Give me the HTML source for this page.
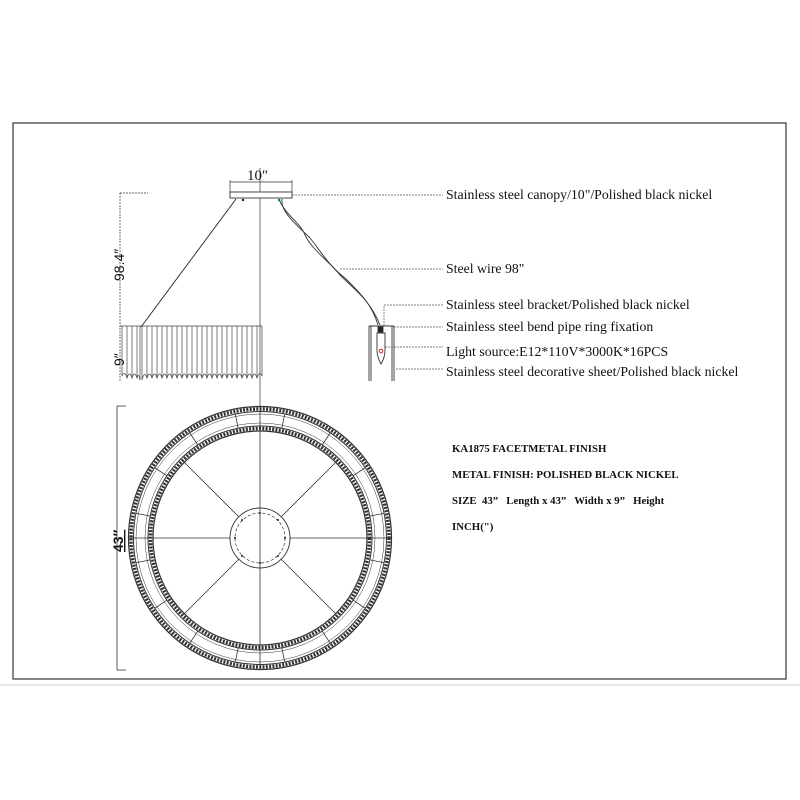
<!DOCTYPE html>
<html><head><meta charset="utf-8"><style>
html,body{margin:0;padding:0;background:#fff;width:800px;height:800px;overflow:hidden}
svg{display:block}
.t{font-family:"Liberation Serif",serif;font-size:13.8px;fill:#111}
.d{font-family:"Liberation Sans",sans-serif;font-size:14px;fill:#111}
.b{font-family:"Liberation Serif",serif;font-size:10.8px;font-weight:bold;fill:#111}
</style></head><body>
<svg width="800" height="800" viewBox="0 0 800 800" xmlns="http://www.w3.org/2000/svg">
<rect x="13" y="123" width="773" height="556" fill="none" stroke="#444" stroke-width="1.3"/>
<line x1="0" y1="685" x2="800" y2="685" stroke="#ccc" stroke-width="1"/>
<line x1="260" y1="168" x2="260" y2="410" stroke="#333" stroke-width="0.7"/>
<rect x="230" y="192" width="62" height="6" fill="#fff" stroke="#333" stroke-width="0.9"/>
<line x1="230" y1="182" x2="292" y2="182" stroke="#333" stroke-width="0.7"/>
<line x1="230" y1="180" x2="230" y2="192" stroke="#333" stroke-width="0.7"/>
<line x1="292" y1="180" x2="292" y2="192" stroke="#333" stroke-width="0.7"/>
<text x="247" y="180" class="t" style="font-size:15px">10″</text>
<circle cx="243" cy="200" r="1.2" fill="#222"/><circle cx="279" cy="200" r="1.3" fill="#2a9"/>
<line x1="236" y1="199" x2="141" y2="327" stroke="#222" stroke-width="0.9"/>
<path d="M279 199 C285 215 300 222 305 235 C312 250 330 262 340 275 C355 290 370 300 380 325" fill="none" stroke="#333" stroke-width="0.9"/>
<path d="M282 199 C280 212 298 226 310 238 C320 250 328 265 345 278 C362 295 372 305 378 325" fill="none" stroke="#333" stroke-width="0.9"/>
<line x1="120" y1="193" x2="120" y2="381" stroke="#333" stroke-width="0.7" stroke-dasharray="2 1"/>
<line x1="120" y1="193" x2="148" y2="193" stroke="#333" stroke-width="0.7" stroke-dasharray="2 1"/>
<text transform="translate(124,281) rotate(-90)" class="d">98.4″</text>
<text transform="translate(124,366) rotate(-90)" class="d">9″</text>
<g stroke="#444" stroke-width="0.7" fill="none">
<line x1="120" y1="326" x2="262" y2="326"/>
<path d="M122 326 V376 M127 326 V378 M132 326 V378 M137 326 V378 M140 326 V380 M142 326 V380 M147 326 V378 M152 326 V378 M157 326 V378 M162 326 V378 M167 326 V378 M172 326 V378 M177 326 V378 M182 326 V378 M187 326 V378 M192 326 V378 M197 326 V378 M202 326 V378 M207 326 V378 M212 326 V378 M217 326 V378 M222 326 V378 M227 326 V378 M232 326 V378 M237 326 V378 M242 326 V378 M247 326 V378 M252 326 V378 M257 326 V378 M262 326 V376"/>
<path d="M122 376 Q124.5 370 127 378 Q129.5 370 132 378 Q134.5 370 137 378 Q138.5 372 140 380 M142 380 Q144.5 370 147 378 Q149.5 370 152 378 Q154.5 370 157 378 Q159.5 370 162 378 Q164.5 370 167 378 Q169.5 370 172 378 Q174.5 370 177 378 Q179.5 370 182 378 Q184.5 370 187 378 Q189.5 370 192 378 Q194.5 370 197 378 Q199.5 370 202 378 Q204.5 370 207 378 Q209.5 370 212 378 Q214.5 370 217 378 Q219.5 370 222 378 Q224.5 370 227 378 Q229.5 370 232 378 Q234.5 370 237 378 Q239.5 370 242 378 Q244.5 370 247 378 Q249.5 370 252 378 Q254.5 370 257 378 Q259.5 370 262 376"/>
</g>
<g stroke="#333" stroke-width="0.9" fill="none">
<line x1="369" y1="326" x2="394" y2="326"/>
<line x1="369" y1="326" x2="369" y2="381"/><line x1="371" y1="326" x2="371" y2="381"/>
<line x1="392" y1="326" x2="392" y2="381"/><line x1="394" y1="326" x2="394" y2="381"/>
<rect x="378" y="327" width="5" height="5" fill="#222"/>
<path d="M377 333 H385 V350 C385 358 382 362 381 364 C379 360 377 356 377 350 Z"/>
</g>
<circle cx="381" cy="351" r="1.8" fill="none" stroke="#d22" stroke-width="1"/>
<g stroke="#555" stroke-width="0.7" stroke-dasharray="2 1">
<line x1="292" y1="195" x2="443" y2="195"/>
<line x1="340" y1="269" x2="443" y2="269"/>
<line x1="384" y1="326" x2="384" y2="305"/><line x1="384" y1="305" x2="443" y2="305"/>
<line x1="394" y1="327" x2="443" y2="327"/>
<line x1="385" y1="347" x2="443" y2="347"/>
<line x1="396" y1="369" x2="443" y2="369"/>
</g>
<text x="446" y="199" class="t">Stainless steel canopy/10"/Polished black nickel</text>
<text x="446" y="273" class="t">Steel wire 98"</text>
<text x="446" y="309" class="t">Stainless steel bracket/Polished black nickel</text>
<text x="446" y="331" class="t">Stainless steel bend pipe ring fixation</text>
<text x="446" y="356" class="t">Light source:E12*110V*3000K*16PCS</text>
<text x="446" y="376" class="t">Stainless steel decorative sheet/Polished black nickel</text>
<line x1="117" y1="406" x2="117" y2="670" stroke="#333" stroke-width="0.8"/>
<line x1="117" y1="406" x2="126" y2="406" stroke="#333" stroke-width="0.8"/>
<line x1="117" y1="670" x2="126" y2="670" stroke="#333" stroke-width="0.8"/>
<text transform="translate(123,552) rotate(-90)" class="d" style="text-decoration:underline;font-weight:bold">43″</text>
<g transform="translate(260,538)" fill="none" stroke="#333">
<circle r="131.5" stroke-width="1.2"/>
<circle r="129" stroke-width="3.5" stroke-dasharray="2 1.3" stroke="#333"/>
<circle r="126.5" stroke-width="1"/>
<circle r="112" stroke-width="1"/>
<circle r="109.5" stroke-width="3.5" stroke-dasharray="2 1.3" stroke="#333"/>
<circle r="107" stroke-width="1.2"/>
<circle r="124" stroke-width="0.5"/>
<circle r="115" stroke-width="0.5"/>
<g stroke-width="0.8">
<line x1="0" y1="-131" x2="0" y2="131"/>
<line x1="-131" y1="0" x2="131" y2="0"/>
<line x1="-76" y1="-76" x2="-21" y2="-21"/><line x1="76" y1="-76" x2="21" y2="-21"/>
<line x1="-76" y1="76" x2="-21" y2="21"/><line x1="76" y1="76" x2="21" y2="21"/>
</g>
<g stroke-width="0.8">
<line x1="0" y1="-126" x2="0" y2="-112" transform="rotate(11.25)"/>
<line x1="0" y1="-126" x2="0" y2="-112" transform="rotate(33.75)"/>
<line x1="0" y1="-126" x2="0" y2="-112" transform="rotate(56.25)"/>
<line x1="0" y1="-126" x2="0" y2="-112" transform="rotate(78.75)"/>
<line x1="0" y1="-126" x2="0" y2="-112" transform="rotate(101.25)"/>
<line x1="0" y1="-126" x2="0" y2="-112" transform="rotate(123.75)"/>
<line x1="0" y1="-126" x2="0" y2="-112" transform="rotate(146.25)"/>
<line x1="0" y1="-126" x2="0" y2="-112" transform="rotate(168.75)"/>
<line x1="0" y1="-126" x2="0" y2="-112" transform="rotate(191.25)"/>
<line x1="0" y1="-126" x2="0" y2="-112" transform="rotate(213.75)"/>
<line x1="0" y1="-126" x2="0" y2="-112" transform="rotate(236.25)"/>
<line x1="0" y1="-126" x2="0" y2="-112" transform="rotate(258.75)"/>
<line x1="0" y1="-126" x2="0" y2="-112" transform="rotate(281.25)"/>
<line x1="0" y1="-126" x2="0" y2="-112" transform="rotate(303.75)"/>
<line x1="0" y1="-126" x2="0" y2="-112" transform="rotate(326.25)"/>
<line x1="0" y1="-126" x2="0" y2="-112" transform="rotate(348.75)"/>
</g>
<circle r="30" stroke-width="0.9" fill="#fff"/>
<circle r="25" stroke-width="0.7" stroke-dasharray="3 2"/>
<line x1="0" y1="-30" x2="0" y2="30" stroke-width="0.8"/>
<g fill="#222" stroke="none">
<circle cx="0" cy="-25" r="1"/><circle cx="0" cy="25" r="1"/><circle cx="-25" cy="0" r="1"/><circle cx="25" cy="0" r="1"/>
<circle cx="-18" cy="-18" r="1"/><circle cx="18" cy="-18" r="1"/><circle cx="-18" cy="18" r="1"/><circle cx="18" cy="18" r="1"/>
</g>
</g>
<text x="452" y="452" class="b">KA1875 FACETMETAL FINISH</text>
<text x="452" y="478" class="b">METAL FINISH: POLISHED BLACK NICKEL</text>
<text x="452" y="504" class="b" xml:space="preserve">SIZE  43”   Length x 43”   Width x 9”   Height</text>
<text x="452" y="530" class="b">INCH(")</text>
</svg>
</body></html>
